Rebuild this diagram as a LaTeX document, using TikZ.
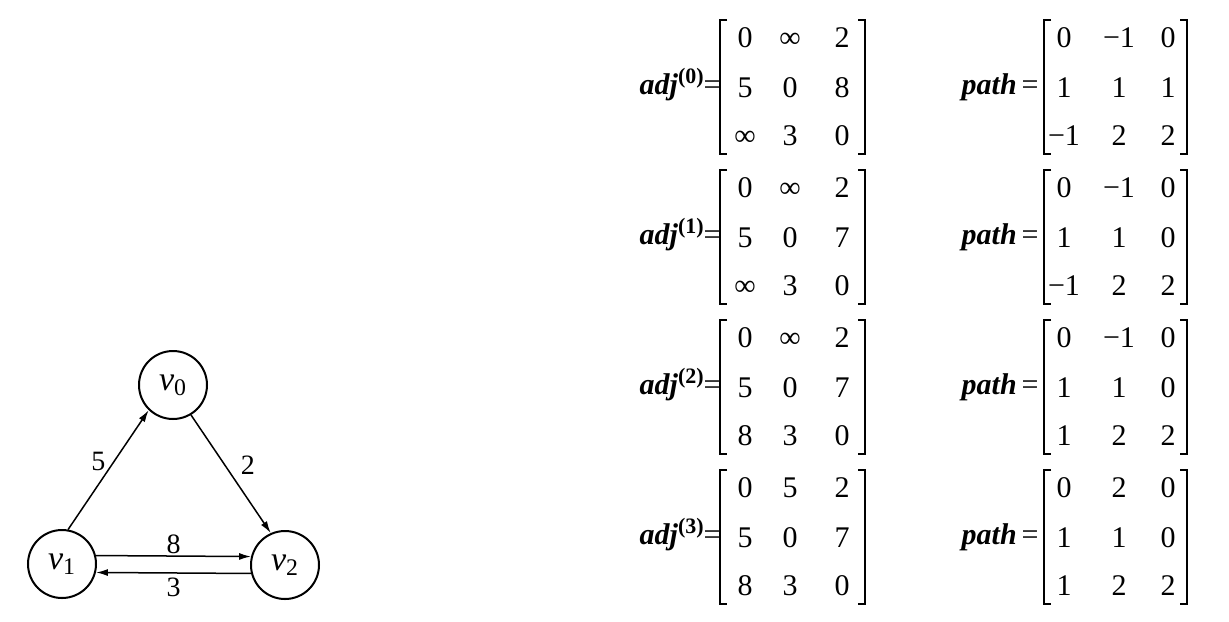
\documentclass[tikz,border=0pt]{standalone}
\usepackage{fontspec}
\setmainfont{Liberation Serif}
\usetikzlibrary{arrows.meta}
\newcommand\mrow[8]{%
  \node[ent] (#1a) at (#3,#2) {#6};
  \node[ent] (#1b) at (#4,#2) {#7};
  \node[ent] (#1c) at (#5,#2) {#8};}
\newcommand\brk[3]{%
  \draw[brk] (#1+7,#3) -- (#1,#3) -- (#1,#3+134) -- (#1+7,#3+134);
  \draw[brk] (#2-7,#3) -- (#2,#3) -- (#2,#3+134) -- (#2-7,#3+134);}
\newcommand\adjmat[2]{% name, top
  \brk{720}{865}{#2}
  \node[lab] (a#1lab) at (721,#2+74) {\textbf{\textit{adj}}\raisebox{5.5pt}{\fontsize{11}{12}\selectfont\bfseries(#1)}=};}
\newcommand\pathmat[2]{% name, top
  \brk{1044}{1187}{#2}
  \node[lab] (p#1lab) at (1039,#2+74) {\textbf{\textit{path}}\,=};}
\begin{document}
\begin{tikzpicture}[x=0.5pt,y=-0.5pt,
  vert/.style={circle,draw,line width=1pt,minimum size=34pt,inner sep=0pt,font=\fontsize{17}{19}\selectfont},
  edge/.style={line width=0.75pt,-{Latex[length=6pt,width=3.5pt]}},
  wt/.style={font=\fontsize{14}{16}\selectfont,inner sep=0pt},
  ent/.style={anchor=base,inner sep=0pt,font=\fontsize{15}{18}\selectfont},
  lab/.style={anchor=base east,inner sep=0pt,font=\fontsize{15}{18}\selectfont},
  brk/.style={line width=1pt}]
\useasboundingbox[fill=white] (0,0) rectangle (1229,621);
% graph
\node[vert] (v0) at (173,385) {\textit{v}\textsubscript{0}};
\node[vert] (v1) at (62,564) {\textit{v}\textsubscript{1}};
\node[vert] (v2) at (285,565) {\textit{v}\textsubscript{2}};
\draw[edge] (v1.80) -- node[wt,xshift=-5pt,yshift=4pt] (w5) {5} (v0.226);
\draw[edge] (v0.301) -- node[wt,xshift=8.5pt,yshift=4.5pt] (w2) {2} (v2.114);
\draw[edge] (v1.14) -- node[wt,yshift=6pt] (w8) {8} (v2.166);
\draw[edge] (v2.194) -- node[wt,yshift=-7pt] (w3) {3} (v1.346);
% adj matrices
\adjmat{0}{20}
\mrow{a0r1}{47}{745}{790}{842}{0}{∞}{2}
\mrow{a0r2}{97}{745}{790}{842}{5}{0}{8}
\mrow{a0r3}{145}{745}{790}{842}{∞}{3}{0}
\adjmat{1}{170}
\mrow{a1r1}{197}{745}{790}{842}{0}{∞}{2}
\mrow{a1r2}{247}{745}{790}{842}{5}{0}{7}
\mrow{a1r3}{295}{745}{790}{842}{∞}{3}{0}
\adjmat{2}{320}
\mrow{a2r1}{347}{745}{790}{842}{0}{∞}{2}
\mrow{a2r2}{397}{745}{790}{842}{5}{0}{7}
\mrow{a2r3}{445}{745}{790}{842}{8}{3}{0}
\adjmat{3}{470}
\mrow{a3r1}{497}{745}{790}{842}{0}{5}{2}
\mrow{a3r2}{547}{745}{790}{842}{5}{0}{7}
\mrow{a3r3}{595}{745}{790}{842}{8}{3}{0}
% path matrices
\pathmat{0}{20}
\mrow{p0r1}{47}{1064}{1119}{1168}{0}{−1}{0}
\mrow{p0r2}{97}{1064}{1119}{1168}{1}{1}{1}
\mrow{p0r3}{145}{1064}{1119}{1168}{−1}{2}{2}
\pathmat{1}{170}
\mrow{p1r1}{197}{1064}{1119}{1168}{0}{−1}{0}
\mrow{p1r2}{247}{1064}{1119}{1168}{1}{1}{0}
\mrow{p1r3}{295}{1064}{1119}{1168}{−1}{2}{2}
\pathmat{2}{320}
\mrow{p2r1}{347}{1064}{1119}{1168}{0}{−1}{0}
\mrow{p2r2}{397}{1064}{1119}{1168}{1}{1}{0}
\mrow{p2r3}{445}{1064}{1119}{1168}{1}{2}{2}
\pathmat{3}{470}
\mrow{p3r1}{497}{1064}{1119}{1168}{0}{2}{0}
\mrow{p3r2}{547}{1064}{1119}{1168}{1}{1}{0}
\mrow{p3r3}{595}{1064}{1119}{1168}{1}{2}{2}
\end{tikzpicture}
\end{document}
